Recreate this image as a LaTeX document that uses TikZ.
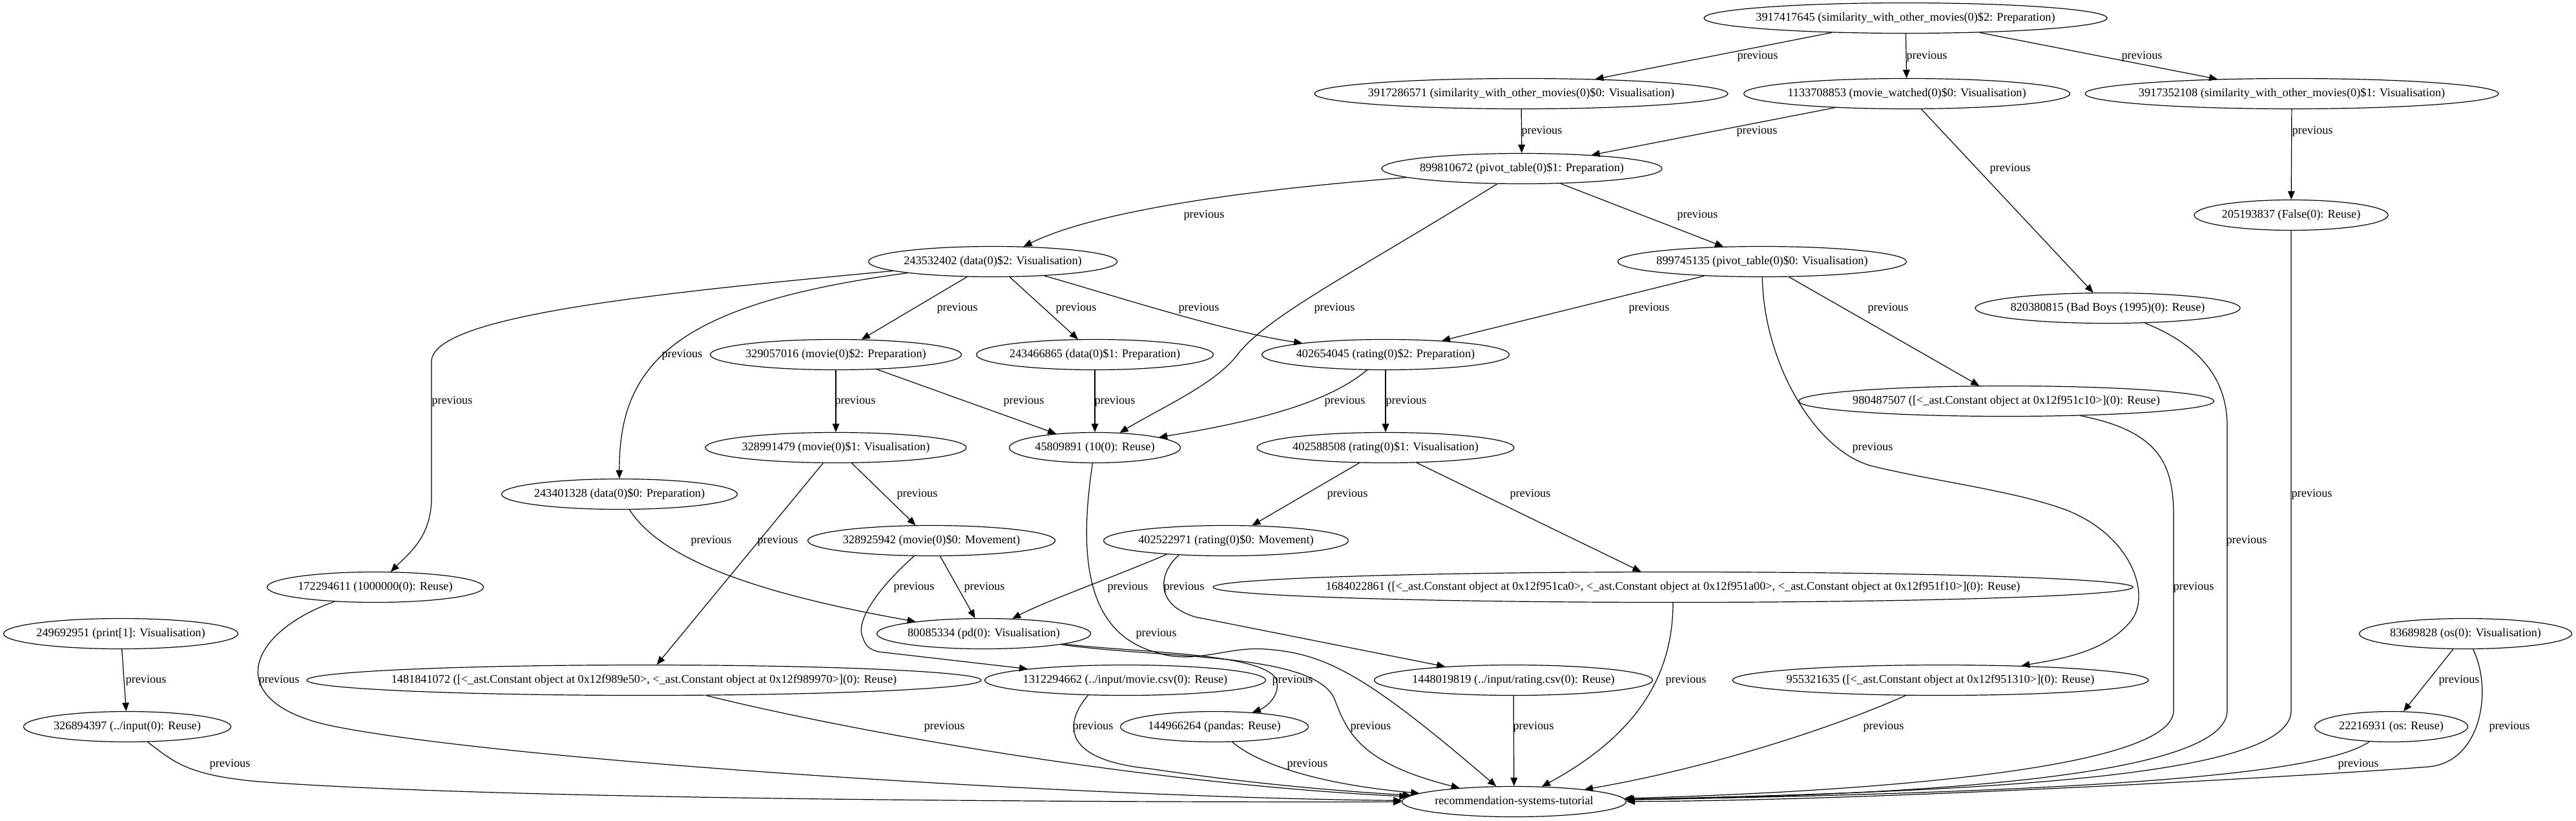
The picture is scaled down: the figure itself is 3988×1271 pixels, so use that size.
\documentclass[tikz,border=0pt]{standalone}
\usepackage{fontspec}
\setmainfont{Liberation Serif}
\usetikzlibrary{shapes.geometric,arrows.meta}
\newcommand{\gvfont}{\fontsize{13.7}{16}\selectfont}
\newcommand{\gvt}[1]{\makebox[0pt]{#1}}
\begin{document}
\begin{tikzpicture}[x=0.75pt,y=-0.75pt,
  gv/.style={draw, ellipse, line width=0.9pt, inner sep=0pt, minimum height=35.25pt, minimum width=#1*0.75pt, font=\gvfont},
  lbl/.style={font=\gvfont, inner sep=0pt},
  ed/.style={draw, line width=0.9pt, -{Triangle[length=9.75pt,width=8pt]}}]
\useasboundingbox (0,0) rectangle (3988,1271);
\fill[white] (0,0) rectangle (3988,1271);
% nodes
\node[gv=624] (nA) at (2950,28) {\gvt{3917417645 (similarity\_with\_other\_movies(0)\$2: Preparation)}};
\node[gv=640] (nB) at (2355,145) {\gvt{3917286571 (similarity\_with\_other\_movies(0)\$0: Visualisation)}};
\node[gv=505] (nC) at (2952,145) {\gvt{1133708853 (movie\_watched(0)\$0: Visualisation)}};
\node[gv=640] (nD) at (3548,145) {\gvt{3917352108 (similarity\_with\_other\_movies(0)\$1: Visualisation)}};
\node[gv=434] (nE) at (2356,261) {\gvt{899810672 (pivot\_table(0)\$1: Preparation)}};
\node[gv=300] (nF) at (3547,333) {\gvt{205193837 (False(0): Reuse)}};
\node[gv=385] (nDataTwo) at (1537,405) {\gvt{243532402 (data(0)\$2: Visualisation)}};
\node[gv=447] (nPtZero) at (2728,405) {\gvt{899745135 (pivot\_table(0)\$0: Visualisation)}};
\node[gv=389] (nMovieTwo) at (1294,549) {\gvt{329057016 (movie(0)\$2: Preparation)}};
\node[gv=367] (nDataOne) at (1695,549) {\gvt{243466865 (data(0)\$1: Preparation)}};
\node[gv=383] (nRatingTwo) at (2145,549) {\gvt{402654045 (rating(0)\$2: Preparation)}};
\node[gv=410] (nBad) at (3263,477) {\gvt{820380815 (Bad Boys (1995)(0): Reuse)}};
\node[gv=643] (nCnine) at (3106,621) {\gvt{980487507 ([<\_ast.Constant object at 0x12f951c10>](0): Reuse)}};
\node[gv=404] (nMovieOne) at (1294,693) {\gvt{328991479 (movie(0)\$1: Visualisation)}};
\node[gv=265] (nTen) at (1695,693) {\gvt{45809891 (10(0): Reuse)}};
\node[gv=398] (nRatingOne) at (2145,693) {\gvt{402588508 (rating(0)\$1: Visualisation)}};
\node[gv=365] (nDataZero) at (959,765) {\gvt{243401328 (data(0)\$0: Preparation)}};
\node[gv=383] (nMovieZero) at (1442,837) {\gvt{328925942 (movie(0)\$0: Movement)}};
\node[gv=379] (nRatingZero) at (1898,837) {\gvt{402522971 (rating(0)\$0: Movement)}};
\node[gv=1424] (nCone) at (2590,909) {\gvt{1684022861 ([<\_ast.Constant object at 0x12f951ca0>, <\_ast.Constant object at 0x12f951a00>, <\_ast.Constant object at 0x12f951f10>](0): Reuse)}};
\node[gv=335] (nMillion) at (581,909) {\gvt{172294611 (1000000(0): Reuse)}};
\node[gv=363] (nPrint) at (187,981) {\gvt{249692951 (print[1]: Visualisation)}};
\node[gv=331] (nPd) at (1523,981) {\gvt{80085334 (pd(0): Visualisation)}};
\node[gv=329] (nOs) at (3817,981) {\gvt{83689828 (os(0): Visualisation)}};
\node[gv=1044] (nCfour) at (997,1053) {\gvt{1481841072 ([<\_ast.Constant object at 0x12f989e50>, <\_ast.Constant object at 0x12f989970>](0): Reuse)}};
\node[gv=435] (nMovieCsv) at (1742,1053) {\gvt{1312294662 (../input/movie.csv(0): Reuse)}};
\node[gv=431] (nRatingCsv) at (2343,1053) {\gvt{1448019819 (../input/rating.csv(0): Reuse)}};
\node[gv=644] (nCfive) at (3004,1053) {\gvt{955321635 ([<\_ast.Constant object at 0x12f951310>](0): Reuse)}};
\node[gv=321] (nInput) at (197,1125) {\gvt{326894397 (../input(0): Reuse)}};
\node[gv=291] (nPandas) at (1880,1125) {\gvt{144966264 (pandas: Reuse)}};
\node[gv=237] (nOsReuse) at (3702,1125) {\gvt{22216931 (os: Reuse)}};
\node[gv=347] (nRec) at (2344,1241) {\gvt{recommendation-systems-tutorial}};
% edges
\draw[ed] (nA) -- (nB);
\draw[ed] (nA) -- (nC);
\draw[ed] (nA) -- (nD);
\draw[ed] (nB) -- (nE);
\draw[ed] (nC) -- (nE);
\draw[ed] (nC) -- (nBad);
\draw[ed] (nD) -- (nF);
\draw[ed] (nE) .. controls (1980,290) and (1710,320) .. (nDataTwo);
\draw[ed] (nE) .. controls (2100,420) and (1960,490) .. (1915,550) .. controls (1880,595) and (1800,630) .. (nTen);
\draw[ed] (nE) -- (nPtZero);
\draw[ed] (nDataTwo) .. controls (1000,455) and (668,490) .. (668,560) -- (668,770) .. controls (668,830) and (635,855) .. (nMillion);
\draw[ed] (nDataTwo) .. controls (1050,470) and (958,560) .. (nDataZero);
\draw[ed] (nDataTwo) -- (nMovieTwo);
\draw[ed] (nDataTwo) -- (nDataOne);
\draw[ed] (nDataTwo) .. controls (1700,450) and (1900,515) .. (nRatingTwo);
\draw[ed] (nMovieTwo) -- (nMovieOne);
\draw[ed] (nMovieTwo) -- (nTen);
\draw[ed] (nDataOne) -- (nTen);
\draw[ed] (nRatingTwo) .. controls (2060,620) and (1960,650) .. (nTen);
\draw[ed] (nRatingTwo) -- (nRatingOne);
\draw[ed] (nPtZero) -- (nRatingTwo);
\draw[ed] (nPtZero) -- (nCnine);
\draw[ed] (nPtZero) .. controls (2730,560) and (2810,700) .. (2900,722) .. controls (3000,746) and (3120,760) .. (3200,790) .. controls (3300,830) and (3330,920) .. (3300,960) .. controls (3260,1010) and (3190,1020) .. (nCfive);
\draw[ed] (nBad) .. controls (3420,540) and (3448,600) .. (3448,660) -- (3448,1100) .. controls (3448,1200) and (3000,1230) .. (nRec);
\draw[ed] (nCnine) .. controls (3345,668) and (3365,720) .. (3365,800) -- (3365,1100) .. controls (3365,1190) and (2900,1225) .. (nRec);
\draw[ed] (nF) -- (3547,1100) .. controls (3547,1200) and (3100,1225) .. (nRec);
\draw[ed] (nRatingOne) -- (nRatingZero);
\draw[ed] (nRatingOne) -- (nCone);
\draw[ed] (nMovieOne) -- (nMovieZero);
\draw[ed] (nMovieOne) -- (nCfour);
\draw[ed] (nDataZero) .. controls (1020,860) and (1150,915) .. (nPd);
\draw[ed] (nMovieZero) -- (nPd);
\draw[ed] (nMovieZero) .. controls (1360,910) and (1325,960) .. (1335,985) .. controls (1340,1000) and (1345,1005) .. (1360,1009) -- (nMovieCsv);
\draw[ed] (nRatingZero.193) .. controls (1720,895) and (1620,930) .. (nPd);
\draw[ed] (nRatingZero.197) .. controls (1795,885) and (1785,935) .. (1850,955) -- (nRatingCsv);
\draw[ed] (nCone) .. controls (2590,1050) and (2530,1140) .. (nRec);
\draw[ed] (nPd) .. controls (1750,1010) and (1950,1010) .. (1975,1050) .. controls (1985,1075) and (1960,1095) .. (nPandas);
\draw[ed] (nPd) .. controls (1800,1020) and (2030,1010) .. (2065,1080) .. controls (2085,1130) and (2100,1180) .. (nRec);
\draw[ed] (nTen) .. controls (1670,860) and (1680,980) .. (1790,1010) .. controls (1850,1030) and (1900,1000) .. (1960,1005) .. controls (2050,1012) and (2110,1040) .. (nRec);
\draw[ed] (nMovieCsv.202) .. controls (1655,1110) and (1630,1175) .. (1780,1190) .. controls (1950,1215) and (2080,1225) .. (nRec);
\draw[ed] (nPandas) .. controls (1950,1185) and (2050,1215) .. (nRec);
\draw[ed] (nRatingCsv) -- (nRec);
\draw[ed] (nCfive) .. controls (2830,1130) and (2640,1190) .. (nRec);
\draw[ed] (nCfour) .. controls (1350,1140) and (1800,1215) .. (nRec);
\draw[ed] (nMillion) .. controls (380,980) and (340,1090) .. (520,1125) .. controls (800,1180) and (1700,1235) .. (nRec);
\draw[ed] (nInput) .. controls (270,1180) and (290,1200) .. (400,1210) .. controls (800,1240) and (1800,1242) .. (nRec);
\draw[ed] (nPrint) -- (nInput);
\draw[ed] (nOs) -- (nOsReuse);
\draw[ed] (nOs) .. controls (3860,1070) and (3840,1180) .. (3760,1187) .. controls (3600,1200) and (2900,1240) .. (nRec);
\draw[ed] (nOsReuse) .. controls (3600,1195) and (3300,1225) .. (nRec);
% labels
\node[lbl] (l1) at (2721,87) {previous};
\node[lbl] (l2) at (2983,87) {previous};
\node[lbl] (l3) at (3316,87) {previous};
\node[lbl] (l4) at (2387,203) {previous};
\node[lbl] (l5) at (2720,203) {previous};
\node[lbl] (l6) at (3112,261) {previous};
\node[lbl] (l7) at (3580,203) {previous};
\node[lbl] (l8) at (1864,333) {previous};
\node[lbl] (l9) at (2066,477) {previous};
\node[lbl] (l10) at (2628,333) {previous};
\node[lbl] (l11) at (700,621) {previous};
\node[lbl] (l12) at (1056,549) {previous};
\node[lbl] (l13) at (1482,477) {previous};
\node[lbl] (l14) at (1666,477) {previous};
\node[lbl] (l15) at (1856,477) {previous};
\node[lbl] (l16) at (1324,621) {previous};
\node[lbl] (l17) at (1585,621) {previous};
\node[lbl] (l18) at (1726,621) {previous};
\node[lbl] (l19) at (2082,621) {previous};
\node[lbl] (l20) at (2177,621) {previous};
\node[lbl] (l21) at (2553,477) {previous};
\node[lbl] (l22) at (2923,477) {previous};
\node[lbl] (l23) at (2899,693) {previous};
\node[lbl] (l24) at (3478,837) {previous};
\node[lbl] (l25) at (3396,909) {previous};
\node[lbl] (l26) at (3579,765) {previous};
\node[lbl] (l27) at (2086,765) {previous};
\node[lbl] (l28) at (2369,765) {previous};
\node[lbl] (l29) at (1420,765) {previous};
\node[lbl] (l30) at (1204,837) {previous};
\node[lbl] (l31) at (1101,837) {previous};
\node[lbl] (l32) at (1524,909) {previous};
\node[lbl] (l33) at (1415,909) {previous};
\node[lbl] (l34) at (1746,909) {previous};
\node[lbl] (l35) at (1833,909) {previous};
\node[lbl] (l36) at (2610,1053) {previous};
\node[lbl] (l37) at (2001,1053) {previous};
\node[lbl] (l38) at (2122,1125) {previous};
\node[lbl] (l39) at (1790,981) {previous};
\node[lbl] (l40) at (1692,1125) {previous};
\node[lbl] (l41) at (2024,1183) {previous};
\node[lbl] (l42) at (2374,1125) {previous};
\node[lbl] (l43) at (2916,1125) {previous};
\node[lbl] (l44) at (1462,1125) {previous};
\node[lbl] (l45) at (432,1053) {previous};
\node[lbl] (l46) at (356,1183) {previous};
\node[lbl] (l47) at (226,1053) {previous};
\node[lbl] (l48) at (3807,1053) {previous};
\node[lbl] (l49) at (3885,1125) {previous};
\node[lbl] (l50) at (3651,1183) {previous};
\end{tikzpicture}
\end{document}
